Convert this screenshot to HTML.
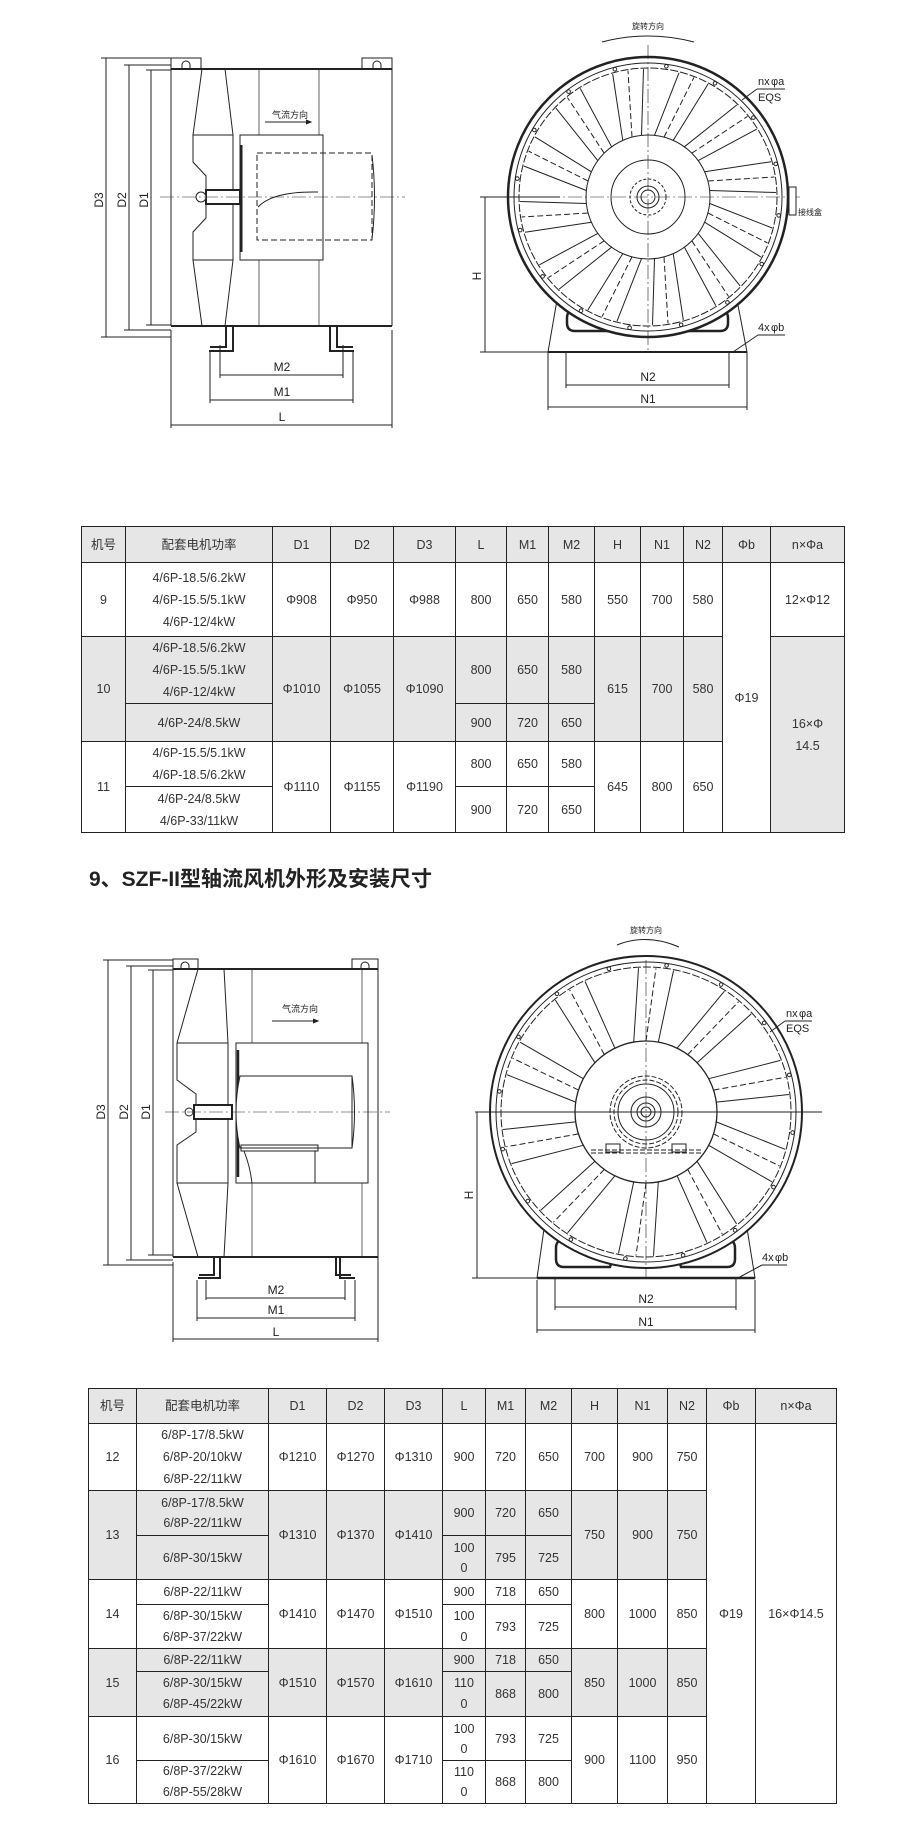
<!DOCTYPE html>
<html><head><meta charset="utf-8">
<style>
body{margin:0;background:#fff;}
#wrap{position:relative;width:920px;height:1840px;overflow:hidden;background:#fff;font-family:"Liberation Sans","Noto Sans CJK SC",sans-serif;}
svg{position:absolute;left:0;top:0;}
table{position:absolute;border-collapse:collapse;table-layout:fixed;font-family:"Liberation Sans Narrow","Liberation Sans","Noto Sans CJK SC",sans-serif;font-size:12.5px;color:#333;}
td{border:1.3px solid #222;text-align:center;vertical-align:middle;padding:0;line-height:22px;overflow:hidden;}
tr.h td{background:#e6e6e6;}
td.g{background:#e6e6e6;}
td.w{background:#fff;}
h2{position:absolute;left:89px;top:863px;margin:0;font-size:21px;font-weight:bold;color:#222;font-family:"Liberation Sans","Noto Sans CJK SC",sans-serif;letter-spacing:0px;}
</style></head><body><div id="wrap">
<svg id="dr" width="920" height="1840" viewBox="0 0 920 1840" font-family="Liberation Sans, Noto Sans CJK SC, sans-serif" fill="none" stroke="#222" stroke-width="1">
<!-- ===== Drawing 1 left ===== -->
<g>
<rect x="171" y="58" width="30" height="11"/><rect x="362" y="58" width="30" height="11"/>
<path d="M182 69 v-4 a4 4 0 0 1 8 0 v4 M373 69 v-4 a4 4 0 0 1 8 0 v4"/>
<line x1="171" y1="69" x2="392" y2="69" stroke-width="2"/>
<line x1="171" y1="326" x2="392" y2="326" stroke-width="2"/>
<line x1="171" y1="69" x2="171" y2="326"/><line x1="392" y1="58" x2="392" y2="326"/>
<line x1="259" y1="69" x2="259" y2="326" stroke-width=".7"/><line x1="319" y1="69" x2="319" y2="326" stroke-width=".7"/>
<path d="M202 69 L193 135 M225 69 L233 135 M202 326 L193 260 M225 326 L233 260" />
<path d="M193 135 H233 V260 H193 V232 L206 218 V176 L193 162 Z" fill="#fff"/>
<rect x="206" y="190" width="34" height="14" fill="#fff" stroke-width="2"/>
<circle cx="201" cy="197" r="5" fill="#fff"/>
<rect x="240" y="135" width="83" height="125" fill="#fff"/>
<line x1="241" y1="145" x2="241" y2="252" stroke-width="3"/>
<path d="M257 153 H372 V240 H257 Z" stroke-dasharray="6 3"/>
<path d="M372 155 q5 42 0 84"/>
<path d="M258 207 q15 -16 60 -15"/>
<text x="272" y="118" font-size="9" fill="#222" stroke="none">气流方向</text>
<path d="M265 122 H310"/><path d="M306 120 L311 122 L306 124" fill="#222"/>
<line x1="160" y1="197" x2="405" y2="197" stroke-width=".6" stroke-dasharray="14 3 2 3"/>
<path d="M226 326 v21 h-16 M233 326 v25 h-24 M337 326 v21 h16 M330 326 v25 h24" stroke-width="2"/>
<path d="M101 58 H171 M106 58 V337 M101 337 H171 M124 65 H171 M129 65 V330 M124 330 H171 M146 70 H171 M151 70 V325 M146 325 H171"/>
<path d="M220 345 V378 M343 345 V378 M220 375 H343 M210 352 V403 M353 352 V403 M210 400 H353 M171 330 V428 M392 330 V428 M171 425 H392"/>
<g fill="#222" stroke="none" font-size="12">
<text x="282" y="371" text-anchor="middle">M2</text><text x="282" y="396" text-anchor="middle">M1</text><text x="282" y="421" text-anchor="middle">L</text>
<text transform="translate(103,200) rotate(-90)" text-anchor="middle">D3</text>
<text transform="translate(126,200) rotate(-90)" text-anchor="middle">D2</text>
<text transform="translate(148,200) rotate(-90)" text-anchor="middle">D1</text>
</g>
</g>
<!-- ===== Drawing 1 right ===== -->
<g>
<path d="M557 300 L737 300 L747 352 L548 352 Z" fill="#fff"/>
<line x1="548" y1="352" x2="747" y2="352" stroke-width="2"/>
<path d="M567 318 q0 -10 12 -8 l36 8 q8 4 4 13 h-44 q-8 0 -8 -8 Z" stroke-width="2.5"/>
<path d="M728 318 q0 -10 -12 -8 l-36 8 q-8 4 -4 13 h44 q8 0 8 -8 Z" stroke-width="2.5"/>
<circle cx="648" cy="197" r="140" fill="#fff" stroke-width="2.5"/>
<circle cx="648" cy="197" r="134"/><circle cx="648" cy="197" r="129" stroke-dasharray="8 2"/>
<g id="bl1"></g>
<circle cx="648" cy="197" r="62" fill="#fff"/>
<circle cx="648" cy="197" r="37"/><circle cx="648" cy="197" r="18" stroke-dasharray="3 2"/><circle cx="648" cy="197" r="11"/><circle cx="648" cy="197" r="7"/>
<line x1="648" y1="45" x2="648" y2="352" stroke-width=".6" stroke-dasharray="14 3 2 3"/>
<line x1="480" y1="197" x2="800" y2="197" stroke-width=".6" stroke-dasharray="14 3 2 3"/>
<rect x="789" y="187" width="7" height="28" fill="#fff"/>
<path d="M602 42 q46 -12 92 0"/>
<text x="648" y="29" font-size="8" fill="#222" stroke="none" text-anchor="middle">旋转方向</text>
<text x="798" y="215" font-size="8" fill="#222" stroke="none">接线盒</text>
<g fill="#222" stroke="none" font-size="11"><text x="758" y="85">nx</text><text x="771" y="85">φa</text><text x="758" y="101">EQS</text>
<text x="758" y="331">4x</text><text x="771" y="331">φb</text></g>
<path d="M757 89 H785 M757 89 L742 100 M758 335 H785 M758 335 L733 352"/>
<path d="M480 197 H560 M480 352 H548 M485 197 V352 M566 352 V388 M729 352 V388 M566 385 H729 M548 352 V410 M747 352 V410 M548 407 H747"/>
<g fill="#222" stroke="none" font-size="12"><text x="648" y="381" text-anchor="middle">N2</text><text x="648" y="403" text-anchor="middle">N1</text>
<text transform="translate(481,276) rotate(-90)" text-anchor="middle">H</text></g>
</g>
<!-- ===== Drawing 2 left ===== -->
<g>
<rect x="173" y="959" width="25" height="10"/><rect x="352" y="959" width="26" height="10"/>
<path d="M181 969 v-3 a4 4 0 0 1 8 0 v3 M361 969 v-3 a4 4 0 0 1 8 0 v3"/>
<line x1="173" y1="969" x2="378" y2="969" stroke-width="2"/>
<line x1="173" y1="1257" x2="378" y2="1257" stroke-width="2"/>
<line x1="173" y1="969" x2="173" y2="1257"/><line x1="378" y1="959" x2="378" y2="1262"/>
<line x1="252" y1="969" x2="252" y2="1257" stroke-width=".7"/><line x1="362" y1="969" x2="362" y2="1257" stroke-width=".7"/>
<path d="M198 969 L177 1043 M224 969 L228 1043 M198 1257 L177 1183 M224 1257 L228 1183"/>
<path d="M177 1043 H228 V1183 H177 V1145 L196 1132 V1094 L177 1080 Z" fill="#fff"/>
<rect x="194" y="1105" width="38" height="14" fill="#fff" stroke-width="2"/>
<circle cx="189" cy="1112" r="4" fill="#fff"/>
<rect x="236" y="1043" width="132" height="140" fill="#fff"/>
<line x1="238" y1="1050" x2="238" y2="1177" stroke-width="2.5"/>
<path d="M240 1076 H352 q5 36 0 72 H240 q-8 -36 0 -72 Z" fill="#fff"/>
<path d="M352 1076 V1148 M241 1145 H318 V1151 H241 Z M315 1151 V1183 M244 1151 q6 15 8 32"/>
<text x="282" y="1012" font-size="9" fill="#222" stroke="none">气流方向</text>
<path d="M272 1021 H317"/><path d="M313 1019 L318 1021 L313 1023" fill="#222"/>
<line x1="165" y1="1112" x2="390" y2="1112" stroke-width=".6" stroke-dasharray="14 3 2 3"/>
<path d="M214 1257 v18 h-15 M220 1257 v21 h-22 M336 1257 v18 h15 M340 1257 v21 h15" stroke-width="2"/>
<path d="M103 960 H173 M108 960 V1265 M103 1265 H173 M126 966 H173 M131 966 V1260 M126 1260 H173 M148 970 H173 M153 970 V1255 M148 1255 H173"/>
<path d="M206 1280 V1300 M345 1280 V1300 M206 1298 H345 M197 1280 V1321 M355 1280 V1321 M197 1318 H355 M173 1262 V1342 M378 1262 V1342 M173 1339 H378"/>
<g fill="#222" stroke="none" font-size="12">
<text x="276" y="1294" text-anchor="middle">M2</text><text x="276" y="1314" text-anchor="middle">M1</text><text x="276" y="1336" text-anchor="middle">L</text>
<text transform="translate(105,1112) rotate(-90)" text-anchor="middle">D3</text>
<text transform="translate(128,1112) rotate(-90)" text-anchor="middle">D2</text>
<text transform="translate(150,1112) rotate(-90)" text-anchor="middle">D1</text>
</g>
</g>
<!-- ===== Drawing 2 right ===== -->
<g>
<path d="M545 1222 L746 1222 L755 1278 L537 1278 Z" fill="#fff"/>
<line x1="537" y1="1278" x2="755" y2="1278" stroke-width="2.5"/>
<path d="M556 1248 q0 -10 12 -8 l38 12 q8 4 4 15 h-46 q-8 0 -8 -8 Z" stroke-width="2.5"/>
<path d="M735 1248 q0 -10 -12 -8 l-38 12 q-8 4 -4 15 h46 q8 0 8 -8 Z" stroke-width="2.5"/>
<circle cx="646" cy="1112" r="156" fill="#fff" stroke-width="2"/>
<circle cx="646" cy="1112" r="150"/><circle cx="646" cy="1112" r="145" stroke-dasharray="8 2"/>
<g id="bl2"></g>
<circle cx="646" cy="1112" r="71" fill="#fff" stroke-width="1.3"/>
<circle cx="646" cy="1112" r="36" stroke-dasharray="5 2"/><circle cx="646" cy="1112" r="32" stroke-dasharray="5 2"/><circle cx="646" cy="1112" r="28"/>
<circle cx="646" cy="1112" r="15"/><circle cx="646" cy="1112" r="9"/><circle cx="646" cy="1112" r="5"/>
<path d="M591 1150 H701 M591 1153 H701" stroke-dasharray="5 2"/>
<path d="M606 1144 h14 v8 h-14 z M672 1144 h14 v8 h-14 z"/>
<line x1="646" y1="960" x2="646" y2="1278" stroke-width=".6" stroke-dasharray="14 3 2 3"/>
<line x1="475" y1="1112" x2="822" y2="1112" stroke-width="1"/>
<path d="M617 945 q30 -12 62 2"/>
<text x="646" y="933" font-size="8" fill="#222" stroke="none" text-anchor="middle">旋转方向</text>
<g fill="#222" stroke="none" font-size="11"><text x="786" y="1017">nx</text><text x="799" y="1017">φa</text><text x="786" y="1032">EQS</text>
<text x="762" y="1261">4x</text><text x="775" y="1261">φb</text></g>
<path d="M785 1021 H812 M785 1021 L770 1032 M762 1265 H787 M762 1265 L738 1278"/>
<path d="M475 1112 H560 M472 1278 H537 M477 1112 V1278 M555 1278 V1310 M736 1278 V1310 M555 1307 H736 M537 1280 V1333 M755 1280 V1333 M537 1330 H755"/>
<g fill="#222" stroke="none" font-size="12"><text x="646" y="1303" text-anchor="middle">N2</text><text x="646" y="1326" text-anchor="middle">N1</text>
<text transform="translate(473,1195) rotate(-90)" text-anchor="middle">H</text></g>
</g>
</svg>
<script>
function blades(id,cx,cy,rh,rr,n,w1,w2,sk,off){
 var g=document.getElementById(id),s='';
 for(var i=0;i<n;i++){
  var a=(off+i*360/n)*Math.PI/180,d=Math.PI/180;
  function p(r,an){return (cx+r*Math.cos(an)).toFixed(1)+' '+(cy+r*Math.sin(an)).toFixed(1);}
  s+='<path d="M'+p(rh,a-w1*d)+' L'+p(rr,a-(w2-sk)*d)+' M'+p(rh,a+w1*d)+' L'+p(rr,a+(w2+sk)*d)+'"/>';
  s+='<path stroke-dasharray="6 3" d="M'+p(rh,a)+' L'+p(rr,a+sk*d)+'"/>';
 }
 for(var j=0;j<16;j++){var b=(j*22.5+8)*Math.PI/180;s+='<circle r="1.8" cx="'+(cx+(rr+4)*Math.cos(b)).toFixed(1)+'" cy="'+(cy+(rr+4)*Math.sin(b)).toFixed(1)+'"/>';}
 g.innerHTML=s;
}
blades('bl1',648,197,62,128,12,9,7,6,-75);
blades('bl2',646,1112,71,144,10,10,7,4,-90);
</script>

<table style="left:81px;top:526px;width:763px;">
<colgroup><col style="width:44px"><col style="width:147px"><col style="width:58px"><col style="width:63px"><col style="width:62px"><col style="width:51px"><col style="width:42px"><col style="width:46px"><col style="width:46px"><col style="width:43px"><col style="width:39px"><col style="width:48px"><col style="width:74px"></colgroup>
<tr class="h" style="height:36px"><td>机号</td><td>配套电机功率</td><td>D1</td><td>D2</td><td>D3</td><td>L</td><td>M1</td><td>M2</td><td>H</td><td>N1</td><td>N2</td><td>Φb</td><td>n×Φa</td></tr>
<tr style="height:74px"><td>9</td><td>4/6P-18.5/6.2kW<br>4/6P-15.5/5.1kW<br>4/6P-12/4kW</td><td>Φ908</td><td>Φ950</td><td>Φ988</td><td>800</td><td>650</td><td>580</td><td>550</td><td>700</td><td>580</td><td rowspan="5" class="w">Φ19</td><td>12×Φ12</td></tr>
<tr style="height:67px"><td rowspan="2" class="g">10</td><td class="g">4/6P-18.5/6.2kW<br>4/6P-15.5/5.1kW<br>4/6P-12/4kW</td><td rowspan="2" class="g">Φ1010</td><td rowspan="2" class="g">Φ1055</td><td rowspan="2" class="g">Φ1090</td><td class="g">800</td><td class="g">650</td><td class="g">580</td><td rowspan="2" class="g">615</td><td rowspan="2" class="g">700</td><td rowspan="2" class="g">580</td><td rowspan="4" class="g">16×Φ<br>14.5</td></tr>
<tr style="height:38px"><td class="g">4/6P-24/8.5kW</td><td class="g">900</td><td class="g">720</td><td class="g">650</td></tr>
<tr style="height:45px"><td rowspan="2">11</td><td>4/6P-15.5/5.1kW<br>4/6P-18.5/6.2kW</td><td rowspan="2">Φ1110</td><td rowspan="2">Φ1155</td><td rowspan="2">Φ1190</td><td>800</td><td>650</td><td>580</td><td rowspan="2">645</td><td rowspan="2">800</td><td rowspan="2">650</td></tr>
<tr style="height:46px"><td>4/6P-24/8.5kW<br>4/6P-33/11kW</td><td>900</td><td>720</td><td>650</td></tr>
</table>

<h2>9、SZF-II型轴流风机外形及安装尺寸</h2>

<table style="left:88px;top:1388px;width:748px;">
<colgroup><col style="width:48px"><col style="width:132px"><col style="width:58px"><col style="width:58px"><col style="width:58px"><col style="width:43px"><col style="width:40px"><col style="width:46px"><col style="width:46px"><col style="width:50px"><col style="width:39px"><col style="width:49px"><col style="width:81px"></colgroup>
<tr class="h" style="height:35px"><td>机号</td><td>配套电机功率</td><td>D1</td><td>D2</td><td>D3</td><td>L</td><td>M1</td><td>M2</td><td>H</td><td>N1</td><td>N2</td><td>Φb</td><td>n×Φa</td></tr>
<tr style="height:65px"><td>12</td><td>6/8P-17/8.5kW<br>6/8P-20/10kW<br>6/8P-22/11kW</td><td>Φ1210</td><td>Φ1270</td><td>Φ1310</td><td>900</td><td>720</td><td>650</td><td>700</td><td>900</td><td>750</td><td rowspan="9" class="w">Φ19</td><td rowspan="9" class="w">16×Φ14.5</td></tr>
<tr style="height:45px"><td rowspan="2" class="g">13</td><td class="g" style="line-height:20px">6/8P-17/8.5kW<br>6/8P-22/11kW</td><td rowspan="2" class="g">Φ1310</td><td rowspan="2" class="g">Φ1370</td><td rowspan="2" class="g">Φ1410</td><td class="g">900</td><td class="g">720</td><td class="g">650</td><td rowspan="2" class="g">750</td><td rowspan="2" class="g">900</td><td rowspan="2" class="g">750</td></tr>
<tr style="height:44px"><td class="g">6/8P-30/15kW</td><td class="g" style="line-height:20px">100<br>0</td><td class="g">795</td><td class="g">725</td></tr>
<tr style="height:25px"><td rowspan="2">14</td><td>6/8P-22/11kW</td><td rowspan="2">Φ1410</td><td rowspan="2">Φ1470</td><td rowspan="2">Φ1510</td><td>900</td><td>718</td><td>650</td><td rowspan="2">800</td><td rowspan="2">1000</td><td rowspan="2">850</td></tr>
<tr style="height:44px"><td style="line-height:21px">6/8P-30/15kW<br>6/8P-37/22kW</td><td style="line-height:21px">100<br>0</td><td>793</td><td>725</td></tr>
<tr style="height:22px"><td rowspan="2" class="g">15</td><td class="g">6/8P-22/11kW</td><td rowspan="2" class="g">Φ1510</td><td rowspan="2" class="g">Φ1570</td><td rowspan="2" class="g">Φ1610</td><td class="g">900</td><td class="g">718</td><td class="g">650</td><td rowspan="2" class="g">850</td><td rowspan="2" class="g">1000</td><td rowspan="2" class="g">850</td></tr>
<tr style="height:45px"><td class="g" style="line-height:21px">6/8P-30/15kW<br>6/8P-45/22kW</td><td class="g" style="line-height:21px">110<br>0</td><td class="g">868</td><td class="g">800</td></tr>
<tr style="height:44px"><td rowspan="2">16</td><td>6/8P-30/15kW</td><td rowspan="2">Φ1610</td><td rowspan="2">Φ1670</td><td rowspan="2">Φ1710</td><td style="line-height:20px">100<br>0</td><td>793</td><td>725</td><td rowspan="2">900</td><td rowspan="2">1100</td><td rowspan="2">950</td></tr>
<tr style="height:43px"><td style="line-height:21px">6/8P-37/22kW<br>6/8P-55/28kW</td><td style="line-height:20px">110<br>0</td><td>868</td><td>800</td></tr>
</table>
</div></body></html>
